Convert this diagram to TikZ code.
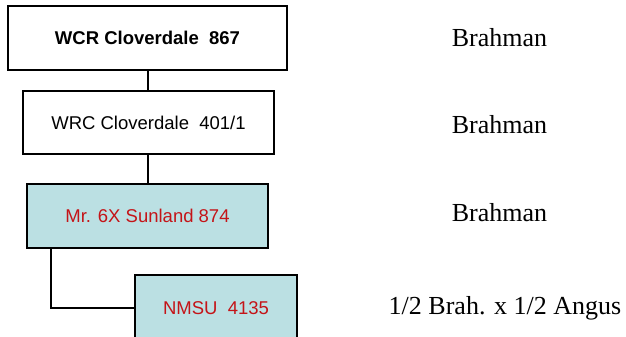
\documentclass[tikz,border=0pt]{standalone}
\usepackage{fontspec}
\setmainfont{Liberation Serif}
\setsansfont{Liberation Sans}
\usepackage{tikz}
\usetikzlibrary{positioning}
\definecolor{pedblue}{RGB}{187,224,227}
\definecolor{pedred}{RGB}{196,20,24}
\tikzset{
  animal/.style={draw=black, line width=2.5pt, inner sep=0pt, font=\sffamily\fontsize{18.5}{20}\selectfont},
  sire/.style={animal, fill=pedblue, text=pedred},
  breed/.style={font=\rmfamily\fontsize{26}{28}\selectfont},
  link/.style={line width=2.5pt}
}

\begin{document}
\begin{tikzpicture}[x=1pt,y=-1pt]
  \useasboundingbox (0,0) rectangle (626,337);
  \clip (0,0) rectangle (626,337);
  \node[animal, minimum width=279pt, minimum height=64pt] (wcr) at (147.5,38) {\bfseries WCR Cloverdale\ \ 867};
  \node[animal, minimum width=251pt, minimum height=63pt] (wrc) at (148.5,122.5) {WRC Cloverdale\ \ 401/1};
  \node[sire, minimum width=241pt, minimum height=64pt] (sun) at (147.5,216) {Mr. 6X Sunland 874};
  \node[sire, minimum width=162pt, minimum height=66pt] (nmsu) at (216,308) {NMSU\ \ 4135};
  \draw[link] (wcr.south -| 148,0) -- (wrc.north -| 148,0);
  \draw[link] (wrc.south -| 148,0) -- (sun.north -| 148,0);
  \draw[link] (sun.south west) ++(25,0) |- (nmsu.west);
  \foreach \n/\y in {1/38,2/125,3/213} {\node[breed] (breed\n) at (499.5,\y) {Brahman};}
  \node[breed] (breed4) at (505,308) {1/2 Brah. x 1/2 Angus};
\end{tikzpicture}
\end{document}
